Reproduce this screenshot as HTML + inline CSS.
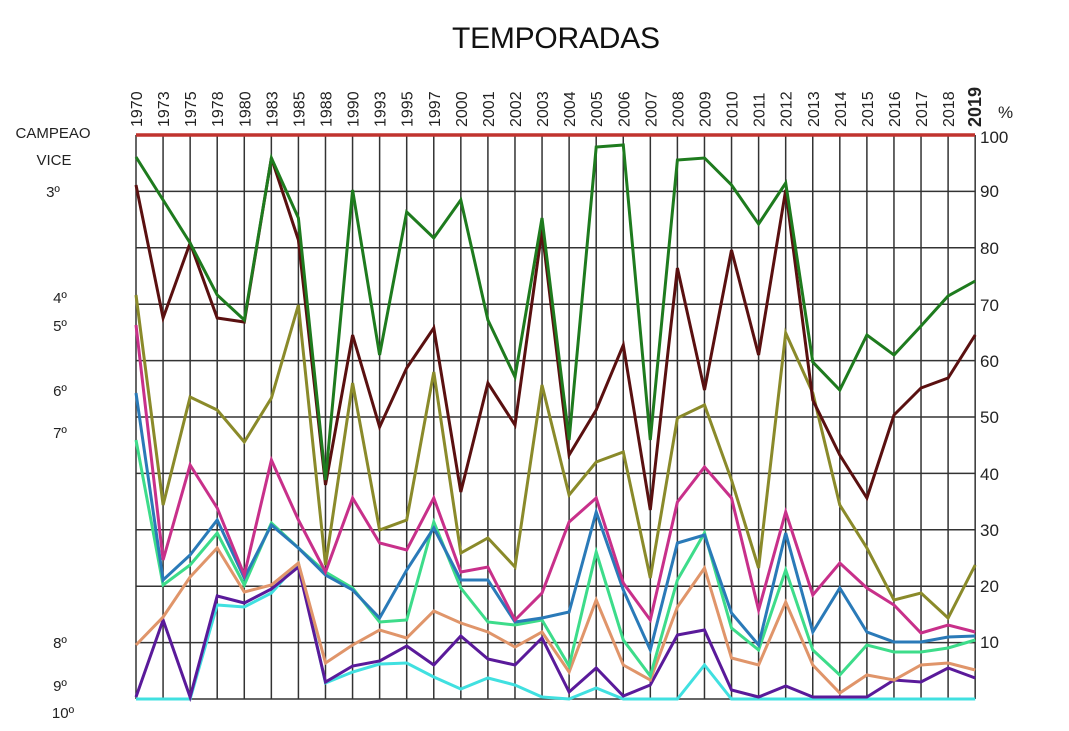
<!DOCTYPE html><html><head><meta charset="utf-8"><style>
html,body{margin:0;padding:0;background:#fff;}
svg{display:block;font-family:"Liberation Sans",sans-serif;}
</style></head><body>
<svg width="1069" height="731" viewBox="0 0 1069 731">
<rect width="1069" height="731" fill="#fff"/>
<text x="556" y="48" font-size="30" text-anchor="middle" fill="#111" textLength="208">TEMPORADAS</text>
<g id="grid" stroke="#333" stroke-width="1.5"></g>
<g id="xl" font-size="16" fill="#222"></g>
<g id="series" fill="none" stroke-width="3" stroke-linejoin="miter"></g>
<line x1="136" y1="135" x2="975" y2="135" stroke="#c0332e" stroke-width="3.5"/>
<g font-size="15" fill="#222" text-anchor="middle">
<text x="53" y="138">CAMPEAO</text><text x="54" y="165">VICE</text><text x="53" y="197">3º</text>
<text x="60" y="303">4º</text><text x="60" y="331">5º</text><text x="60" y="396">6º</text>
<text x="60" y="438">7º</text><text x="60" y="648">8º</text><text x="60" y="691">9º</text><text x="63" y="718">10º</text>
</g>
<g font-size="17" fill="#222">
<text x="998" y="118">%</text>
<text x="980" y="143">100</text><text x="980" y="197">90</text><text x="980" y="254">80</text>
<text x="980" y="311">70</text><text x="980" y="367">60</text><text x="980" y="423">50</text>
<text x="980" y="480">40</text><text x="980" y="536">30</text><text x="980" y="592">20</text>
<text x="980" y="648">10</text>
</g>
</svg>
<script>
const ns="http://www.w3.org/2000/svg";
const X=i=>136+i*27.07;
const g=document.getElementById('grid');
function ln(p,a){const e=document.createElementNS(ns,'line');for(const k in a)e.setAttribute(k,a[k]);p.appendChild(e);}
for(let i=0;i<32;i++)ln(g,{x1:X(i),y1:135,x2:X(i),y2:699});
for(let k=1;k<=10;k++){const y=135+k*56.4;ln(g,{x1:136,y1:y,x2:975,y2:y});}
const yrs=[1970,1973,1975,1978,1980,1983,1985,1988,1990,1993,1995,1997,2000,2001,2002,2003,2004,2005,2006,2007,2008,2009,2010,2011,2012,2013,2014,2015,2016,2017,2018,2019];
const xl=document.getElementById('xl');
yrs.forEach((y,i)=>{const t=document.createElementNS(ns,'text');t.setAttribute('transform',`translate(${X(i)+6},127) rotate(-90)`);if(i==31){t.setAttribute('font-size','18');t.setAttribute('font-weight','bold');}t.textContent=y;xl.appendChild(t);});
const S=[
["#40e0e0",[699,699,699,605,607,593,563,683,672,664,663,677,689,678,685,697,699,688,699,699,699,665,699,699,699,699,699,699,699,699,699,699]],
["#5a1a9a",[697,620,697,596,603,589,567,682,666,661,646,665,636,659,665,638,692,668,696,685,635,630,690,697,686,697,697,697,680,682,668,678]],
["#e0956a",[645,617,577,548,592,585,563,663,645,630,638,611,623,632,647,632,672,600,665,680,607,568,658,665,602,665,693,675,680,665,663,670]],
["#3ddc8a",[440,585,565,533,585,523,548,572,588,622,620,522,588,622,625,620,666,552,640,676,580,533,628,650,570,650,675,645,652,652,648,640]],
["#2a7ab8",[393,580,555,520,578,525,548,575,590,618,570,528,580,580,622,618,612,512,590,650,543,535,613,645,533,632,588,632,642,642,637,636]],
["#c8308a",[325,560,465,508,575,460,520,572,498,543,550,498,572,567,620,593,522,498,583,620,502,467,498,610,512,595,563,588,605,633,625,632]],
["#8a8a2a",[295,505,397,410,442,398,305,565,383,530,520,372,553,538,567,385,495,462,452,578,418,405,480,568,333,393,505,548,600,593,618,565]],
["#5a1010",[185,318,243,318,322,158,240,485,335,427,368,328,492,383,425,230,455,410,345,510,268,390,250,355,190,400,455,498,415,388,378,335]],
["#1e7b1e",[157,200,243,295,320,158,218,480,190,355,212,238,200,320,377,218,440,147,145,440,160,158,185,224,183,362,390,335,355,326,296,281]]
];
const sg=document.getElementById('series');
S.forEach(([c,d])=>{const p=document.createElementNS(ns,'polyline');p.setAttribute('points',d.map((y,i)=>X(i).toFixed(1)+','+y).join(' '));p.setAttribute('stroke',c);sg.appendChild(p);});
</script>
</body></html>
